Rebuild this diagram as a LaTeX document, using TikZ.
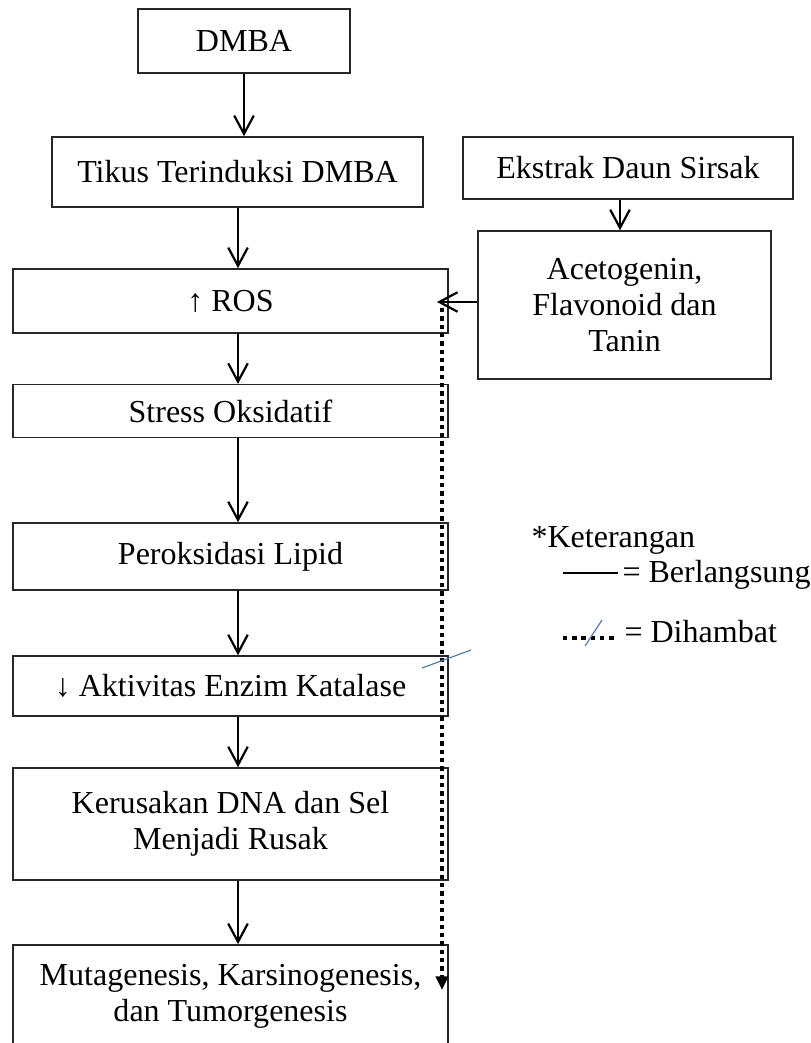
\documentclass[tikz,border=0pt]{standalone}
\usepackage{fontspec}
\setmainfont{Liberation Serif}
\usepackage{xcolor}
\usetikzlibrary{
	arrows.meta,
	positioning,
	calc
}
\definecolor{slashblue}{RGB}{74,126,187}

\begin{document}
\begin{tikzpicture}[x=0.384pt,y=-0.384pt,
		box/.style={draw=black!85,line width=0.6pt,align=center,inner sep=2pt,font=\fontsize{12.3}{14}\selectfont},
		flow/.style={line width=0.85pt,-{Straight Barb[length=7pt,width=7.5pt]}},
		blocked/.style={line width=1.65pt,dash pattern=on 1.65pt off 1.55pt,-{Triangle[length=5.2pt,width=4.6pt]}},
		slash/.style={draw=slashblue,line width=0.45pt},
		legend/.style={anchor=west,inner sep=0pt,font=\fontsize{12.3}{14}\selectfont}]
		
		\useasboundingbox (0,0) rectangle (811,1043);
		\clip (0,0) rectangle (811,1043);
		
		% main chain
		\node[box,minimum width=81.4pt,minimum height=24.6pt] (dmba) at (244,41) {DMBA};
		\node[box,minimum width=142.5pt,minimum height=26.9pt] (tikus) at (237.5,172) {Tikus Terinduksi DMBA};
		\node[box,minimum width=167pt,minimum height=24.6pt] (ros) at (230.5,301) {↑ ROS};
		\node[box,minimum width=167pt,minimum height=20.2pt] (stress) at (230.5,411) {Stress Oksidatif};
		\node[box,minimum width=167pt,minimum height=25.7pt] (lipid) at (230.5,556.5) {Peroksidasi Lipid};
		\node[box,minimum width=167pt,minimum height=23pt] (katalase) at (230.5,686) {↓ Aktivitas Enzim Katalase};
		\node[box,minimum width=167pt,minimum height=43pt] (dna) at (230.5,824) {Kerusakan DNA dan Sel\\Menjadi Rusak};
		\node[box,minimum width=167pt,minimum height=39.6pt] (tumor) at (230.5,996.5) {Mutagenesis, Karsinogenesis,\\dan Tumorgenesis};
		
		% sirsak side
		\node[box,minimum width=126.7pt,minimum height=23.8pt] (ekstrak) at (628,168) {Ekstrak Daun Sirsak};
		\node[box,minimum width=112.5pt,minimum height=56.8pt] (aceto) at (624.5,305) {Acetogenin,\\Flavonoid dan\\Tanin};
		
		\coordinate (col) at (238,0);
		\coordinate (col2) at (620,0);
		
		\draw[flow] (dmba.south) -- (dmba.south |- tikus.north);
		\draw[flow] (tikus.south -| col) -- (ros.north -| col);
		\draw[flow] (ros.south -| col) -- (stress.north -| col);
		\draw[flow] (stress.south -| col) -- (lipid.north -| col);
		\draw[flow] (lipid.south -| col) -- (katalase.north -| col);
		\draw[flow] (katalase.south -| col) -- (dna.north -| col);
		\draw[flow] (dna.south -| col) -- (tumor.north -| col);
		\draw[flow] (ekstrak.south -| col2) -- (aceto.north -| col2);
		
		\coordinate (rosin) at (437,302);
		\draw[flow] (aceto.west |- rosin) -- (rosin);
		
		% inhibition
		\coordinate (blk1) at (442,308);
		\coordinate (blk2) at (442,990);
		\draw[blocked] (blk1) -- (blk2);
		\draw[slash] (422,668) -- (471,650);
		
		% legend
		\node[legend] (ket) at (531,540) {*Keterangan};
		\coordinate (solA) at (563,573);
		\coordinate (solB) at (618,573);
		\draw[line width=0.75pt] (solA) -- (solB);
		\node[legend] (berl) at (622,575) {= Berlangsung};
		
		\coordinate (dotA) at (563,638);
		\coordinate (dotB) at (618,638);
		\draw[line width=1.65pt,dash pattern=on 1.65pt off 1.9pt] (dotA) -- (dotB);
		\draw[slash] (585,646) -- (602,620);
		\node[legend] (dih) at (624,632) {= Dihambat};
		
	\end{tikzpicture}
\end{document}
